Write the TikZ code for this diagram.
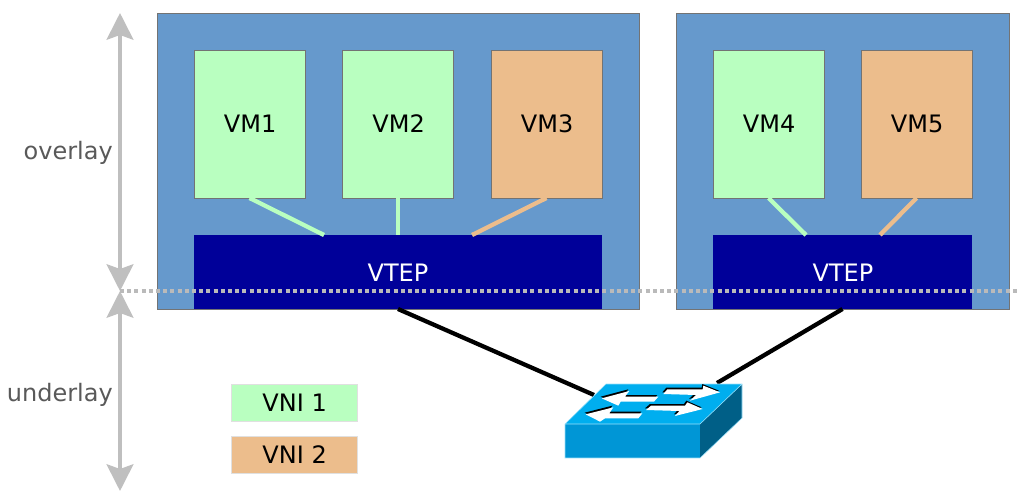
\documentclass[tikz,border=0pt]{standalone}
\usepackage{fontspec}
\setmainfont{DejaVu Sans}
\usetikzlibrary{arrows.meta}
\definecolor{hostblue}{HTML}{6699CC}
\definecolor{vniA}{HTML}{B9FFC0}
\definecolor{vniB}{HTML}{ECBD8C}
\definecolor{vtepblue}{HTML}{000099}
\definecolor{swtop}{HTML}{00AEEF}
\definecolor{swfront}{HTML}{0096D6}
\definecolor{swside}{HTML}{005F87}
\definecolor{axisgray}{HTML}{BFBFBF}
\definecolor{labelgray}{HTML}{595959}
\tikzset{
  box/.style={anchor=north west,inner sep=0pt,outer sep=0pt,font=\fontsize{18pt}{21pt}\selectfont},
  host/.style={box,fill=hostblue,draw=black!55,line width=0.5pt,minimum width=#1*0.75pt,minimum height=222pt},
  vm/.style={box,fill=#1,draw=black!55,line width=0.4pt,minimum width=83.25pt,minimum height=111pt,execute at begin node={\kern1pt}},
  vtep/.style={box,fill=vtepblue,text=white,minimum width=#1*0.75pt,minimum height=55.5pt},
  legend/.style={box,fill=#1,draw=black!12,line width=0.4pt,minimum width=94.5pt,minimum height=27.75pt,execute at begin node={\kern1pt}},
  axislabel/.style={anchor=east,inner sep=0pt,text=labelgray,font=\fontsize{18pt}{21pt}\selectfont},
  vnilink/.style={draw=#1,line width=3.2pt},
  trunk/.style={draw=black,line width=3.2pt},
  axis/.style={draw=axisgray,line width=3pt,{Stealth[length=20pt,width=20pt,inset=3.5pt]}-{Stealth[length=20pt,width=20pt,inset=3.5pt]}}
}
\begin{document}
\begin{tikzpicture}[x=0.75pt,y=-0.75pt]
\useasboundingbox (0,0) rectangle (1019,491);
% hosts
\node[host=482] (host1) at (157,13) {};
\node[host=333] (host2) at (676,13) {};
% VTEPs
\node[vtep=408] (vtep1) at (194,235) {};
\node[vtep=259] (vtep2) at (713,235) {};
\node[text=white,font=\fontsize{18pt}{21pt}\selectfont] (vtep1t) at (398,272.5) {VTEP};
\node[text=white,font=\fontsize{18pt}{21pt}\selectfont] (vtep2t) at (843,272.5) {VTEP};
% VMs
\node[vm=vniA] (vm1) at (194,50) {VM1};
\node[vm=vniA] (vm2) at (342.5,50) {VM2};
\node[vm=vniB] (vm3) at (491,50) {VM3};
\node[vm=vniA] (vm4) at (713,50) {VM4};
\node[vm=vniB] (vm5) at (861,50) {VM5};
% attachment points on the VTEPs
\coordinate (v1a) at (324,235);
\coordinate (v1c) at (472,235);
\coordinate (v2a) at (806,235);
\coordinate (v2b) at (880,235);
\draw[vnilink=vniA] (vm1.south) -- (v1a);
\draw[vnilink=vniA] (vm2.south) -- (vtep1.north);
\draw[vnilink=vniB] (vm3.south) -- (v1c);
\draw[vnilink=vniA] (vm4.south) -- (v2a);
\draw[vnilink=vniB] (vm5.south) -- (v2b);
% trunks
\coordinate (swl) at (594,395);
\coordinate (swr) at (717,383);
\draw[trunk] (vtep1.south) -- (swl);
\draw[trunk] (vtep2.south) -- (swr);
% switch
\fill[swfront] (565,424) rectangle (700,458);
\fill[swside] (700,424) -- (742,384) -- (742,418) -- (700,458) -- cycle;
\fill[swtop] (565,424) -- (606,384) -- (742,384) -- (700,424) -- cycle;
\draw[white!60!swtop,line width=0.4pt] (565,424) -- (606,384) -- (742,384) -- (742,418) -- (700,458) -- (565,458) -- cycle (565,424) -- (700,424) -- (742,384);
\begin{scope}[shift={(550,370)},x=0.25pt,y=-0.25pt]
  \foreach \dx/\dy/\col in {-3/-5/black,0/0/white}{
    \fill[\col,shift={(\dx*0.25pt,-\dy*0.25pt)}] (340,72) -- (352,58) -- (458,58) -- (460,47) -- (510,67) -- (420,92) -- (438,75) -- cycle;
    \fill[\col,shift={(\dx*0.25pt,-\dy*0.25pt)}] (155,85) -- (238,63) -- (225,80) -- (325,80) -- (312,95) -- (212,95) -- (205,107) -- cycle;
    \fill[\col,shift={(\dx*0.25pt,-\dy*0.25pt)}] (107,133) -- (190,112) -- (178,130) -- (277,130) -- (265,145) -- (165,145) -- (150,155) -- cycle;
    \fill[\col,shift={(\dx*0.25pt,-\dy*0.25pt)}] (288,120) -- (303,107) -- (405,107) -- (412,97) -- (458,117) -- (375,138) -- (388,123) -- cycle;
  }
\end{scope}
% axes
\coordinate (axtop) at (120,13);
\coordinate (axmid) at (120,291);
\coordinate (axbot) at (120,491);
\coordinate (axend) at (1019,291);
\draw[axis] (axtop) -- (axmid);
\draw[axis] (axmid) -- (axbot);
\draw[draw=black!27,line width=3pt,dash pattern=on 3pt off 2.4pt] (axmid) -- (axend);
\node[axislabel] (ov) at (113,153) {overlay};
\node[axislabel] (un) at (113,394.5) {underlay};
% legend
\node[legend=vniA] (l1) at (231,384) {VNI 1};
\node[legend=vniB] (l2) at (231,436) {VNI 2};
\end{tikzpicture}
\end{document}
